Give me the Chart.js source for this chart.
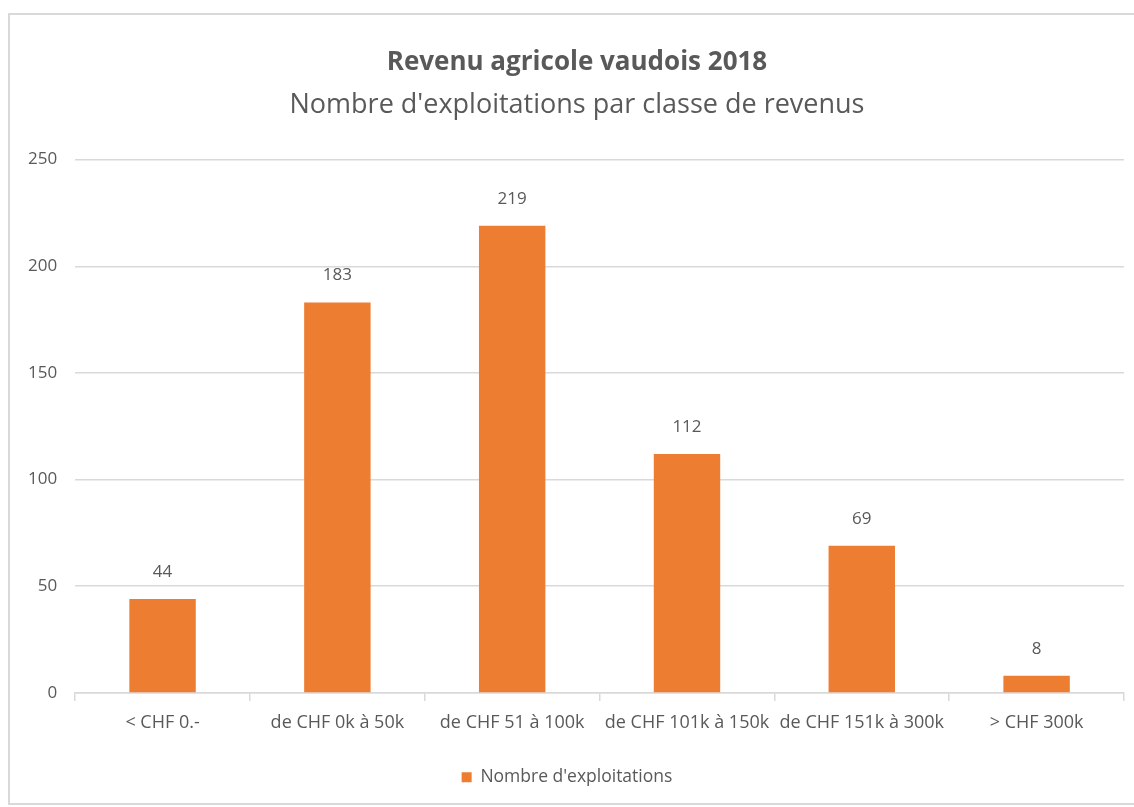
<!DOCTYPE html>
<html>
<head>
<meta charset="utf-8">
<script src="https://cdn.jsdelivr.net/npm/chart.js@4"></script>
<style>
  body { margin: 0; background: #fff; }
  #frame {
    position: absolute; left: 8px; top: 13px; width: 1128px; height: 792px;
    border: 2px solid #d9d9d9; box-sizing: border-box; background: #fff;
  }
  #chart { display: block; }
</style>
</head>
<body>
<div id="frame"><canvas id="chart" width="1124" height="788"></canvas></div>
<script>
// categories and values
const categories = ['< CHF 0.-', 'de CHF 0k à 50k', 'de CHF 51 à 100k', 'de CHF 101k à 150k', 'de CHF 151k à 300k', '> CHF 300k'];
const exploitations = [44, 183, 219, 112, 69, 8];
const seriesName = "Nombre d'exploitations";
const titleText = 'Revenu agricole vaudois 2018';
const subtitleText = "Nombre d'exploitations par classe de revenus";

const grey = '#595959';
const orange = '#ed7d31';
const fontFamily = "'Open Sans', 'Noto Sans', sans-serif";

// small plugin: value above each bar
const valueLabels = {
  id: 'valueLabels',
  afterDatasetsDraw(chart) {
    const ctx = chart.ctx;
    ctx.save();
    ctx.fillStyle = grey;
    ctx.font = '17px ' + fontFamily;
    ctx.textAlign = 'center';
    ctx.textBaseline = 'middle';
    chart.getDatasetMeta(0).data.forEach((bar, i) => {
      ctx.fillText(chart.data.datasets[0].data[i], bar.x, bar.y - 27);
    });
    ctx.restore();
  }
};

// titles sit a little right of the canvas centre in the original
const titleShift = {
  id: 'titleShift',
  afterLayout(chart) {
    chart.boxes.forEach(b => {
      if (b.options && (b.options.text === titleText || b.options.text === subtitleText)) {
        b.left += 20;
      }
    });
  }
};

new Chart(document.getElementById('chart'), {
  type: 'bar',
  data: {
    labels: categories,
    datasets: [{
      label: seriesName,
      data: exploitations,
      backgroundColor: orange,
      barPercentage: 0.76,
      categoryPercentage: 0.5
    }]
  },
  options: {
    responsive: false,
    animation: false,
    layout: { padding: { left: 0, right: 10, top: 18, bottom: 7 } },
    plugins: {
      title: {
        display: true, text: titleText, color: grey,
        font: { family: fontFamily, size: 26, weight: 'bold' },
        padding: { top: 14, bottom: 11 }
      },
      subtitle: {
        display: true, text: subtitleText, color: grey,
        font: { family: fontFamily, size: 27 },
        padding: { bottom: 38 }
      },
      legend: {
        position: 'bottom',
        labels: {
          color: grey, boxWidth: 10, boxHeight: 10, padding: 24,
          font: { family: fontFamily, size: 17.5 }
        }
      },
      tooltip: { enabled: false }
    },
    scales: {
      x: {
        grid: { offset: true, drawOnChartArea: false, color: '#d9d9d9', tickLength: 8, lineWidth: 1.5 },
        border: { color: '#d9d9d9', width: 1.5 },
        ticks: { color: grey, font: { family: fontFamily, size: 18 }, padding: 11, maxRotation: 0 }
      },
      y: {
        min: 0, max: 250,
        grid: { color: '#d9d9d9', drawTicks: false, lineWidth: 1.5 },
        border: { display: false },
        ticks: { stepSize: 50, color: grey, font: { family: fontFamily, size: 17 }, padding: 18 }
      }
    }
  },
  plugins: [valueLabels, titleShift]
});
</script>
</body>
</html>
